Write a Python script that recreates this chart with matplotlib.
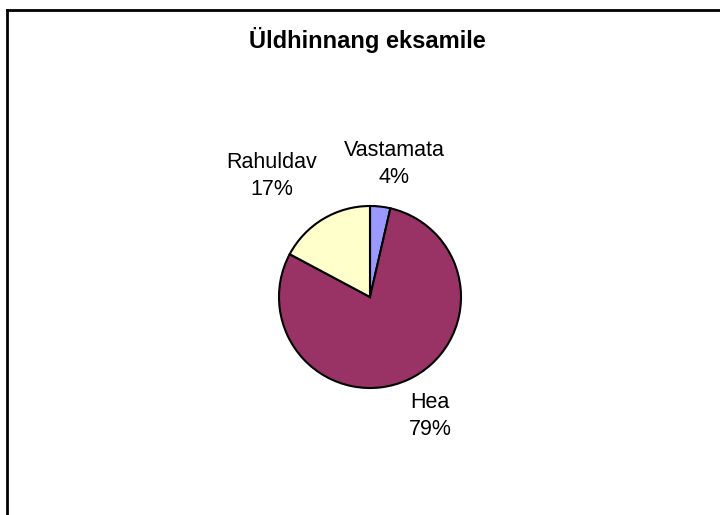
import matplotlib
matplotlib.use("Agg")
import matplotlib.pyplot as plt
from matplotlib.lines import Line2D

# data
labels = ["Vastamata", "Hea", "Rahuldav"]
shares = [3.6, 79.2, 17.2]
colors = ["#9999FF", "#993366", "#FFFFCC"]
title = "Üldhinnang eksamile"

plt.rcParams["font.family"] = ["Liberation Sans", "DejaVu Sans"]

W, H = 720, 515
fig = plt.figure(figsize=(W / 100, H / 100), dpi=100)

# pie centred at (370, 297) px, radius 91 px
cx, cy, r = 370, 297, 91
ax = fig.add_axes([(cx - r) / W, (H - cy - r) / H, 2 * r / W, 2 * r / H])
ax.pie(shares, colors=colors, startangle=90, counterclock=False,
       wedgeprops=dict(edgecolor="black", linewidth=1.5))
ax.set_xlim(-1, 1); ax.set_ylim(-1, 1)
ax.set_aspect("equal")
ax.set_clip_on(False)

# label placement (pixel centres of the two-line labels)
label_px = {"Vastamata": (394, 164), "Hea": (430, 416), "Rahuldav": (272, 176)}
for lab, v in zip(labels, shares):
    px, py = label_px[lab]
    fig.text(px / W, 1 - py / H, f"{lab}\n{round(v):.0f}%",
             ha="center", va="center", fontsize=15.5, linespacing=1.35,
             multialignment="center")

fig.text(367 / W, 1 - 48 / H, title, ha="center", va="baseline",
         fontsize=17, fontweight="bold")

# chart area border (only top/left visible in the crop)
fig.add_artist(Line2D([7 / W, 1], [1 - 10 / H, 1 - 10 / H],
                      transform=fig.transFigure, color="black", lw=2))
fig.add_artist(Line2D([7 / W, 7 / W], [0, 1 - 10 / H],
                      transform=fig.transFigure, color="black", lw=2))

fig.savefig("out.png", dpi=100)
